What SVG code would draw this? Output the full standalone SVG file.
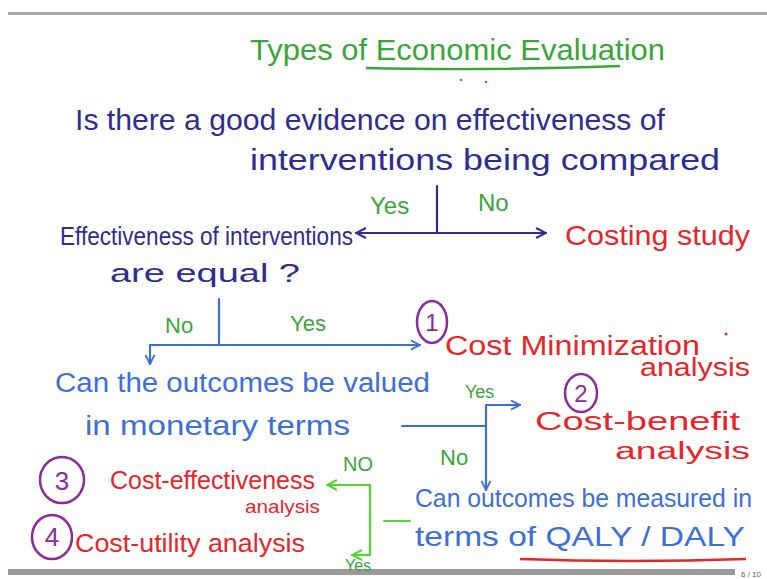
<svg xmlns="http://www.w3.org/2000/svg" width="767" height="579" viewBox="0 0 767 579">
<style>
text{font-family:"Liberation Sans",Arial,sans-serif;}
.gr{fill:#3aa53a}
.nv{fill:#2e2e8e}
.rd{fill:#e6262b}
.bl{fill:#3d6fd6}
.pu{fill:none;stroke:#8a2b9b;stroke-width:2.5}
.pt{fill:#8a2b9b}
.cn{fill:none;stroke-width:2.2;stroke-linecap:round}
</style>
<defs>
<marker id="aN" viewBox="0 0 12 12" refX="11" refY="6" markerWidth="12" markerHeight="12" markerUnits="userSpaceOnUse" orient="auto-start-reverse"><path d="M1,1 L11,6 L1,11" fill="none" stroke="#2e2e8e" stroke-width="2"/></marker>
<marker id="aB" viewBox="0 0 12 12" refX="11" refY="6" markerWidth="11" markerHeight="11" markerUnits="userSpaceOnUse" orient="auto-start-reverse"><path d="M1,1 L11,6 L1,11" fill="none" stroke="#3d6fd6" stroke-width="2"/></marker>
<marker id="aG" viewBox="0 0 12 12" refX="11" refY="6" markerWidth="12" markerHeight="12" markerUnits="userSpaceOnUse" orient="auto-start-reverse"><path d="M1,1 L11,6 L1,11" fill="none" stroke="#55d633" stroke-width="2"/></marker>
</defs>
<rect width="767" height="579" fill="#ffffff"/>
<rect x="8" y="12" width="759" height="3" fill="#a8a8a8"/>
<rect x="8" y="569" width="727" height="6" fill="#9a9a9a"/>
<text x="741" y="577" font-size="8" fill="#555">6 / 10</text>

<g id="title">
<text x="250" y="60" font-size="30" class="gr" textLength="415" lengthAdjust="spacingAndGlyphs">Types of Economic Evaluation</text>
<path d="M366,68 Q480,71 620,66" fill="none" stroke="#3aa53a" stroke-width="2.5"/>
<circle cx="461" cy="80" r="1.3" fill="#3aa53a"/><circle cx="486" cy="82" r="1.3" fill="#3aa53a"/>
</g>

<g id="q1">
<text x="75" y="130" font-size="29" class="nv" textLength="590" lengthAdjust="spacingAndGlyphs">Is there a good evidence on effectiveness of</text>
<text x="250" y="170" font-size="29" class="nv" textLength="470" lengthAdjust="spacingAndGlyphs">interventions being compared</text>
</g>

<g id="q2">
<text x="60" y="245" font-size="26" class="nv" textLength="293" lengthAdjust="spacingAndGlyphs">Effectiveness of interventions</text>
<text x="110" y="282" font-size="26" class="nv" textLength="190" lengthAdjust="spacingAndGlyphs">are equal ?</text>
</g>

<g id="costing">
<text x="565" y="245" font-size="28" class="rd" textLength="185" lengthAdjust="spacingAndGlyphs">Costing study</text>
</g>

<g id="cma">
<ellipse cx="432" cy="322" rx="15" ry="21" class="pu"/>
<text x="432" y="331" font-size="24" class="pt" text-anchor="middle">1</text>
<text x="445" y="355" font-size="27" class="rd" textLength="255" lengthAdjust="spacingAndGlyphs">Cost Minimization</text>
<text x="640" y="376" font-size="25" class="rd" textLength="110" lengthAdjust="spacingAndGlyphs">analysis</text>
<circle cx="726" cy="334" r="1.5" fill="#e6262b"/>
</g>

<g id="q3">
<text x="55" y="392" font-size="27" class="bl" textLength="375" lengthAdjust="spacingAndGlyphs">Can the outcomes be valued</text>
<text x="85" y="435" font-size="27" class="bl" textLength="265" lengthAdjust="spacingAndGlyphs">in monetary terms</text>
</g>

<g id="cba">
<ellipse cx="581" cy="393" rx="16" ry="19" class="pu"/>
<text x="581" y="402" font-size="24" class="pt" text-anchor="middle">2</text>
<text x="535" y="430" font-size="26" class="rd" textLength="205" lengthAdjust="spacingAndGlyphs">Cost-benefit</text>
<text x="615" y="459" font-size="23" class="rd" textLength="135" lengthAdjust="spacingAndGlyphs">analysis</text>
</g>

<g id="cea">
<ellipse cx="62" cy="480" rx="22" ry="23" class="pu"/>
<text x="62" y="490" font-size="26" class="pt" text-anchor="middle">3</text>
<text x="110" y="489" font-size="25" class="rd" textLength="205" lengthAdjust="spacingAndGlyphs">Cost-effectiveness</text>
<text x="245" y="513" font-size="18" class="rd" textLength="75" lengthAdjust="spacingAndGlyphs">analysis</text>
</g>

<g id="cua">
<ellipse cx="52" cy="537" rx="20" ry="22" class="pu"/>
<text x="52" y="546" font-size="26" class="pt" text-anchor="middle">4</text>
<text x="75" y="552" font-size="25" class="rd" textLength="230" lengthAdjust="spacingAndGlyphs">Cost-utility analysis</text>
</g>

<g id="q4">
<text x="415" y="507" font-size="25" class="bl" textLength="337" lengthAdjust="spacingAndGlyphs">Can outcomes be measured in</text>
<text x="415" y="546" font-size="28" class="bl" textLength="330" lengthAdjust="spacingAndGlyphs">terms of QALY / DALY</text>
<path d="M520,559 Q630,563 746,559" fill="none" stroke="#e6262b" stroke-width="2.5"/>
</g>

<g id="connectors">
<line x1="437" y1="186" x2="437" y2="233" class="cn" stroke="#2e2e8e"/>
<line x1="356" y1="233" x2="546" y2="233" class="cn" stroke="#2e2e8e" marker-start="url(#aN)" marker-end="url(#aN)"/>
<text x="370" y="214" font-size="24" class="gr">Yes</text>
<text x="478" y="211" font-size="24" class="gr">No</text>

<line x1="219" y1="299" x2="219" y2="345" class="cn" stroke="#3d6fd6"/>
<line x1="150" y1="345" x2="420" y2="345" class="cn" stroke="#3d6fd6" marker-end="url(#aB)"/>
<line x1="150" y1="345" x2="150" y2="364" class="cn" stroke="#3d6fd6" marker-end="url(#aB)"/>
<text x="165" y="333" font-size="22" class="gr">No</text>
<text x="290" y="331" font-size="22" class="gr">Yes</text>

<line x1="402" y1="426" x2="486" y2="426" class="cn" stroke="#3d6fd6"/>
<line x1="486" y1="405" x2="486" y2="490" class="cn" stroke="#3d6fd6" marker-end="url(#aB)"/>
<line x1="486" y1="405" x2="520" y2="405" class="cn" stroke="#3d6fd6" marker-end="url(#aB)"/>
<text x="465" y="398" font-size="18" class="gr">Yes</text>
<text x="440" y="465" font-size="22" class="gr">No</text>

<line x1="384" y1="521" x2="410" y2="521" class="cn" stroke="#55d633"/>
<line x1="370" y1="485" x2="370" y2="555" class="cn" stroke="#55d633"/>
<line x1="370" y1="485" x2="327" y2="485" class="cn" stroke="#55d633" marker-end="url(#aG)"/>
<line x1="370" y1="555" x2="352" y2="555" class="cn" stroke="#55d633" marker-end="url(#aG)"/>
<text x="343" y="471" font-size="20" class="gr">NO</text>
<text x="345" y="571" font-size="16" class="gr">Yes</text>
</g>
</svg>
